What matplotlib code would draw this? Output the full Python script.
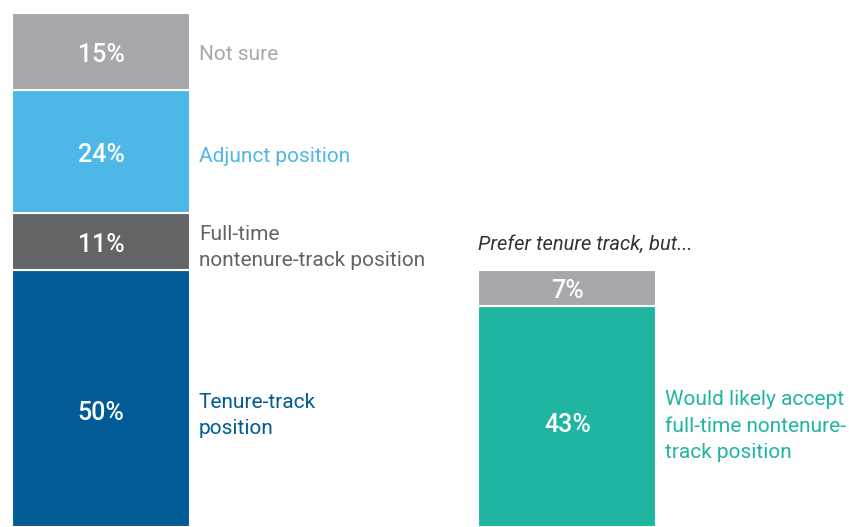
import matplotlib
matplotlib.use('Agg')
import matplotlib.pyplot as plt

plt.rcParams['font.family'] = ['Roboto', 'DejaVu Sans']

# left bar, bottom to top
left_vals = [50, 11, 24, 15]
left_labels = ['Tenure-track\nposition', 'Full-time\nnontenure-track position',
               'Adjunct position', 'Not sure']
left_colors = ['#005b96', '#636466', '#4db8e8', '#a7a8ab']

# right bar, bottom to top
right_vals = [43, 7]
right_label = 'Would likely accept\nfull-time nontenure-\ntrack position'
right_colors = ['#20b5a1', '#a7a8ab']
right_title = 'Prefer tenure track, but...'

W, H = 849, 527
PX = 5.14  # pixels per percent
fig = plt.figure(figsize=(W / 100, H / 100), dpi=100)
ax = fig.add_axes([0, 0, 1, 1])
ax.set_xlim(0, W)
ax.set_ylim(0, H / PX)
ax.axis('off')

bar_w = 178
left_x = 101
right_x = 567.5


def stack(x, vals, colors, nudge):
    bottom = 0
    mids = []
    for i, (v, c) in enumerate(zip(vals, colors)):
        ax.bar(x, v, bottom=bottom, width=bar_w, color=c, edgecolor='white', linewidth=1.5)
        mid = bottom + v / 2 - 3 / PX + (nudge if i == 0 else 0)
        ax.text(x, mid, f'{v}%', color='white', ha='center', va='center',
                fontsize=18, fontweight='medium')
        mids.append(bottom + v / 2)
        bottom += v
    return mids


lm = stack(left_x, left_vals, left_colors, -12 / PX)
rm = stack(right_x, right_vals, right_colors, -6 / PX)

lx = left_x + bar_w / 2 + 9
label_dy = [-17, -6, -5, -3]  # pixel nudges
for m, dy, t, c in zip(lm, label_dy, left_labels, left_colors):
    ax.text(lx, m + dy / PX, t, color=c, ha='left', va='center', fontsize=15,
            linespacing=1.5)

rx = right_x + bar_w / 2 + 9
ax.text(rx, rm[0] - 10 / PX, right_label, color=right_colors[0], ha='left', va='center',
        fontsize=15, linespacing=1.5)
ax.text(right_x - bar_w / 2, sum(right_vals) + 26 / PX, right_title, color='#333333',
        ha='left', va='center', fontsize=14.5, style='italic')

fig.savefig('out.png', dpi=100)
